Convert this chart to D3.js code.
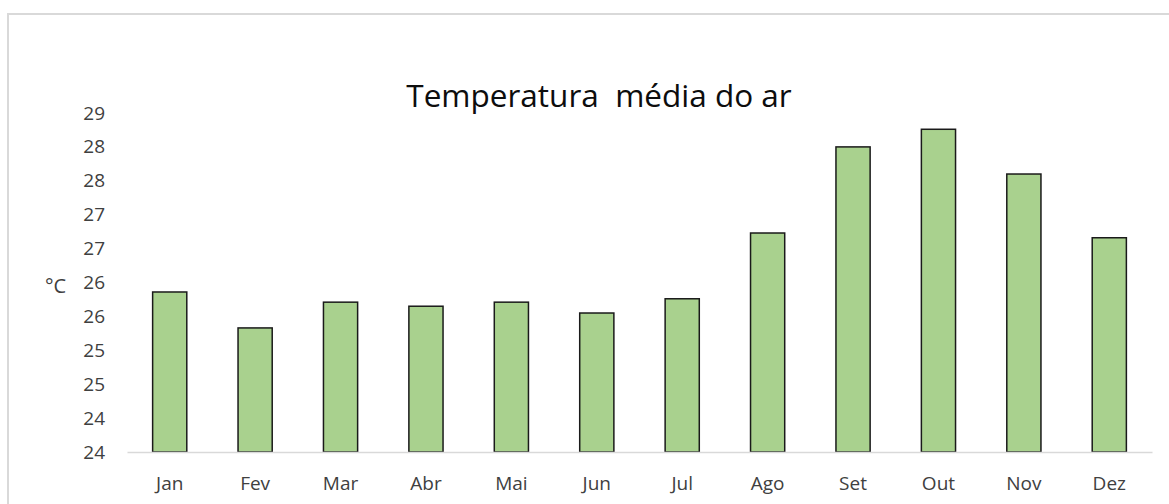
<!DOCTYPE html>
<html>
<head>
<meta charset="utf-8">
<script src="https://cdn.jsdelivr.net/npm/d3@7"></script>
<style>
  body { margin: 0; background: #fff; }
  svg { display: block; font-family: "Open Sans", sans-serif; }
</style>
</head>
<body>
<svg id="chart" width="1169" height="504"></svg>
<script>
// data
const months = ['Jan', 'Fev', 'Mar', 'Abr', 'Mai', 'Jun', 'Jul', 'Ago', 'Set', 'Out', 'Nov', 'Dez'];
const temps = [26.36, 25.83, 26.21, 26.15, 26.21, 26.05, 26.26, 27.23, 28.5, 28.76, 28.1, 27.16];
const tickValues = [24, 24.5, 25, 25.5, 26, 26.5, 27, 27.5, 28, 28.5, 29];
const tickLabels = ['24', '24', '25', '25', '26', '26', '27', '27', '28', '28', '29'];

const svg = d3.select('#chart');
const width = 1169, height = 504;
const padLeft = 127, padRight = 17, padTop = 113, padBottom = 52;

// chart frame
svg.append('rect')
  .attr('x', 8).attr('y', 14)
  .attr('width', width).attr('height', height)
  .attr('fill', 'none')
  .attr('stroke', '#d9d9d9')
  .attr('stroke-width', 2);

const x = d3.scaleBand()
  .domain(months)
  .range([padLeft, width - padRight])
  .paddingInner(0.6)
  .paddingOuter(0.3);

const y = d3.scaleLinear()
  .domain([24, 29])
  .range([height - padBottom, padTop]);

// title
svg.append('text')
  .attr('x', 599).attr('y', 107)
  .attr('text-anchor', 'middle')
  .style('font-size', '31.5px')
  .style('white-space', 'pre')
  .style('fill', '#0d0d0d')
  .text('Temperatura  média do ar');

// y axis
const yAxis = svg.append('g')
  .attr('transform', `translate(${padLeft}, 0)`)
  .call(d3.axisLeft(y).tickValues(tickValues).tickFormat((d, i) => tickLabels[i]).tickSize(0).tickPadding(22));
yAxis.select('.domain').remove();
yAxis.selectAll('text')
  .style('font-size', '19px')
  .style('font-family', '"Open Sans", sans-serif')
  .style('fill', '#404040');

// unit label
svg.append('text')
  .attr('x', 45).attr('y', y(26.5) + 3)
  .attr('dy', '0.35em')
  .style('font-size', '20px')
  .style('fill', '#404040')
  .text('°C');

// bars
svg.append('g').selectAll('.bar').data(temps)
  .join('rect')
  .attr('class', 'bar')
  .attr('x', (d, i) => x(months[i]))
  .attr('y', d => y(d))
  .attr('width', x.bandwidth())
  .attr('height', d => y(24) - y(d))
  .attr('fill', '#a9d18e')
  .attr('stroke', '#1a1a1a')
  .attr('stroke-width', 1.5);

// x axis
const xAxis = svg.append('g')
  .attr('transform', `translate(0, ${y(24)})`)
  .call(d3.axisBottom(x).tickSize(0).tickPadding(25).tickSizeOuter(0));
xAxis.select('.domain')
  .attr('stroke', '#d9d9d9')
  .attr('stroke-width', 1.5);
xAxis.selectAll('text')
  .style('font-size', '19px')
  .style('font-family', '"Open Sans", sans-serif')
  .style('fill', '#404040');
</script>
</body>
</html>
